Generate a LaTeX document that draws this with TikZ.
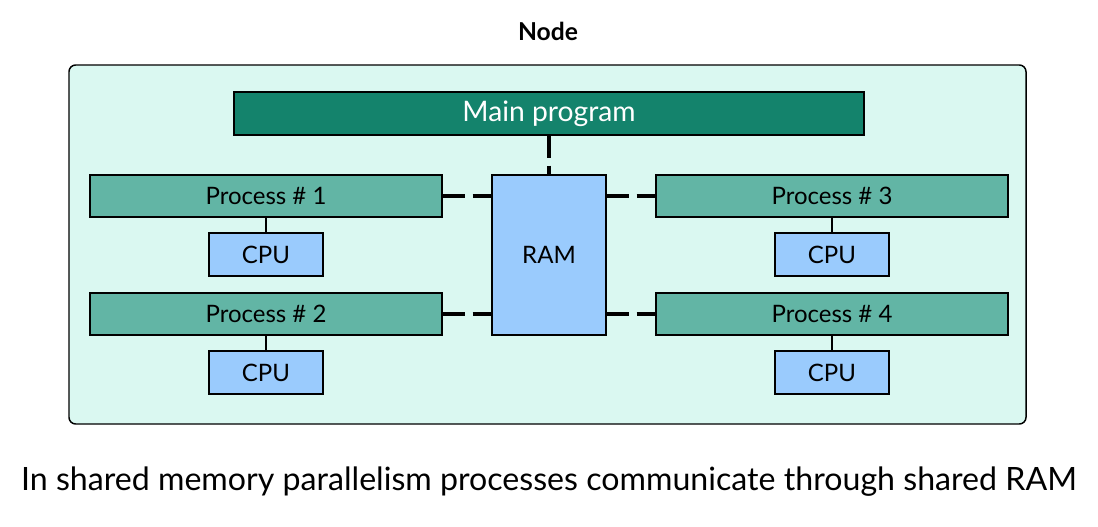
\documentclass[tikz,border=0pt]{standalone}
\usepackage{fontspec}
\setmainfont{Lato}
\definecolor{bgmint}{HTML}{DAF8F1}
\definecolor{maingreen}{HTML}{14836C}
\definecolor{procgreen}{HTML}{62B5A5}
\definecolor{cpublue}{HTML}{9ACBFD}
\begin{document}
\begin{tikzpicture}[x=0.75pt,y=-0.75pt,
  box/.style={draw=black,line width=1.1pt,inner sep=0pt,outer sep=0pt,anchor=center},
  mainbox/.style={box,fill=maingreen,text=white,minimum width=472.5pt,minimum height=32.25pt,font=\fontsize{21.2}{24}\selectfont},
  procbox/.style={box,fill=procgreen,minimum width=264pt,minimum height=31.5pt,font=\fontsize{18}{21}\selectfont},
  cpubox/.style={box,fill=cpublue,minimum width=85.5pt,minimum height=32.25pt,font=\fontsize{18}{21}\selectfont},
  rambox/.style={box,fill=cpublue,minimum width=85.5pt,minimum height=120pt,font=\fontsize{18}{21}\selectfont},
  shared/.style={line width=2.3pt,dash pattern=on 17pt off 6pt},
  thin/.style={line width=1.1pt}]
\useasboundingbox (0,0) rectangle (1098,526);
\node[font=\bfseries\fontsize{18.5}{21}\selectfont] (title) at (548,31) {Node};
\node[draw=black,line width=1.1pt,fill=bgmint,rounded corners=5pt,minimum width=717.75pt,minimum height=269.25pt,inner sep=0pt] (nodebox) at (547.5,244.5) {};
\node[mainbox] (main) at (549,113.5) {Main program};
\node[rambox] (ram) at (549,255) {RAM};
\node[procbox] (p1) at (266,196) {Process \# 1};
\node[procbox] (p2) at (266,314) {Process \# 2};
\node[procbox] (p3) at (832,196) {Process \# 3};
\node[procbox] (p4) at (832,314) {Process \# 4};
\node[cpubox] (c1) at (266,254.5) {CPU};
\node[cpubox] (c2) at (266,372.5) {CPU};
\node[cpubox] (c3) at (832,254.5) {CPU};
\node[cpubox] (c4) at (832,372.5) {CPU};
\draw[shared] (main.south) -- (ram.north);
\draw[shared] (p1.east) -- (p1.east -| ram.west);
\draw[shared] (p2.east) -- (p2.east -| ram.west);
\draw[shared] (ram.east |- p3.west) -- (p3.west);
\draw[shared] (ram.east |- p4.west) -- (p4.west);
\draw[thin] (p1.south) -- (c1.north);
\draw[thin] (p2.south) -- (c2.north);
\draw[thin] (p3.south) -- (c3.north);
\draw[thin] (p4.south) -- (c4.north);
\node[font=\fontsize{24.1}{28}\selectfont] (caption) at (549,482) {In shared memory parallelism processes communicate through shared RAM};
\end{tikzpicture}
\end{document}
